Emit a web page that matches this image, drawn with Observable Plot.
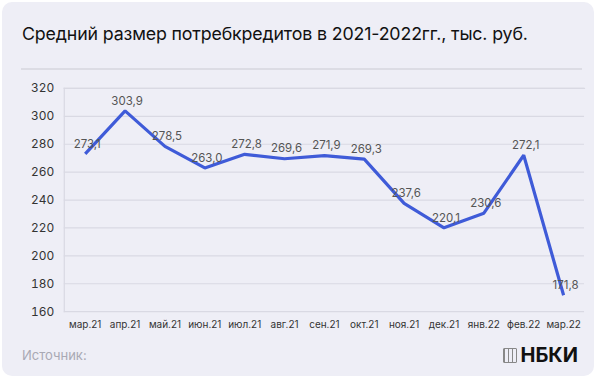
<!DOCTYPE html>
<html><head><meta charset="utf-8">
<script src="https://cdn.jsdelivr.net/npm/d3@7"></script>
<script src="https://cdn.jsdelivr.net/npm/@observablehq/plot@0.6"></script>
<style>
html,body{margin:0;padding:0;background:#fff;}
#card{position:absolute;left:2px;top:2px;width:592px;height:374px;background:#eeeef6;border-radius:10px;overflow:hidden;font-family:Inter,"Noto Sans",sans-serif;}
#title{position:absolute;left:20px;top:21px;font-size:17.8px;color:#111;white-space:nowrap;letter-spacing:-0.15px;}
#sep{position:absolute;left:19px;right:12px;top:66px;height:2px;background:#dcdce4;}
#chart{position:absolute;left:-2px;top:68px;}
#src{position:absolute;left:20px;top:345px;font-size:13px;color:#a9a9b4;}
#logo{position:absolute;right:16px;top:341px;font-size:20px;font-weight:700;color:#111;display:flex;align-items:center;gap:3px;}
#logo .ic{width:14px;height:15px;border:1.5px solid #888;box-sizing:border-box;border-radius:1px;background:repeating-linear-gradient(90deg,#888 0 1.5px,transparent 1.5px 4px);}
</style></head><body>
<div id="card">
<div id="title">Средний размер потребкредитов в 2021-2022гг., тыс. руб.</div>
<div id="sep"></div>
<div id="chart"></div>
<div id="src">Источник:</div>
<div id="logo"><span class="ic"></span><span>НБКИ</span></div>
</div>
<script>
const months = ["мар.21","апр.21","май.21","июн.21","июл.21","авг.21","сен.21","окт.21","ноя.21","дек.21","янв.22","фев.22","мар.22"];
const values = [273.1,303.9,278.5,263.0,272.8,269.6,271.9,269.3,237.6,220.1,230.6,272.1,171.8];
const yTicks = [160,180,200,220,240,260,280,300,320];
const data = months.map((m,i)=>({m, v: values[i]}));
const fmt = v => v.toFixed(1).replace(".", ",");
const plot = Plot.plot({
  width: 596, height: 272,
  marginLeft: 64, marginRight: 10, marginTop: 18, marginBottom: 30,
  style: {background: "transparent", fontFamily: "Inter, 'Noto Sans', sans-serif"},
  x: {type: "point", domain: months, padding: 0.5, label: null},
  y: {domain: [160, 320], ticks: yTicks, label: null},
  marks: [
    Plot.ruleY(yTicks, {stroke: "#d9d9e3", strokeWidth: 1.2}),
    Plot.frame({anchor: "left", stroke: "#d9d9e3", strokeWidth: 1.2}),
    Plot.frame({anchor: "top", stroke: "#d9d9e3", strokeWidth: 1.2}),
    Plot.axisY({ticks: yTicks, tickSize: 0, tickPadding: 10, fontSize: 12, fill: "#333", tickFormat: d => String(d)}),
    Plot.axisX({tickSize: 0, tickPadding: 9, fontSize: 10, fill: "#333"}),
    Plot.line(data, {x: "m", y: "v", stroke: "#3f5bd8", strokeWidth: 3.2, strokeLinejoin: "miter", strokeLinecap: "butt"}),
    Plot.text(data, {x: "m", y: "v", text: d => fmt(d.v), dy: -10, dx: 2, fontSize: 11.5, fill: "#555"})
  ]
});
document.getElementById("chart").appendChild(plot);
</script>
</body></html>
